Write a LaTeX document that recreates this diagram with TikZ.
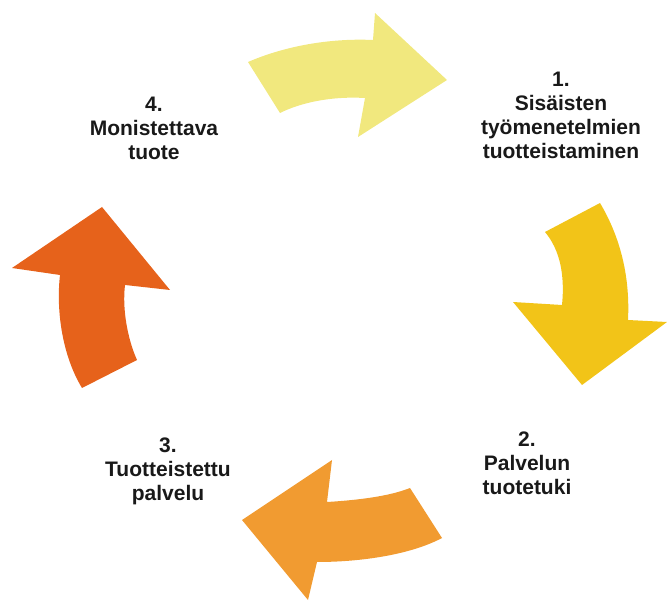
\documentclass[tikz,border=0pt]{standalone}
\usepackage{fontspec}
\setmainfont{Liberation Sans}
\usetikzlibrary{arrows}
\definecolor{paleyellow}{HTML}{F1E87E}
\definecolor{goldyellow}{HTML}{F2C418}
\definecolor{lightorange}{HTML}{F19B31}
\definecolor{darkorange}{HTML}{E6621B}
\tikzset{
    phase/.style={align=center, text=black!90, font=\bfseries\fontsize{21}{24}\selectfont} % Step labels
}

\begin{document}
\begin{tikzpicture}[x=1pt, y=-1pt]
    \useasboundingbox (0,0) rectangle (667,601);

    % 4 -> 1
    \fill
        [paleyellow]
        (248,62) .. controls (285,46) and (330,38) .. (373,40)
        -- (375,13) -- (447,80) -- (358,137) -- (365,98)
        .. controls (330,96) and (300,103) .. (280,113)
        -- cycle
    ;
    % 1 -> 2
    \fill
        [goldyellow]
        (545,232) -- (600,203)
        .. controls (622,240) and (630,280) .. (628,320)
        -- (667,322) -- (582,385) -- (513,302) -- (562,305)
        .. controls (565,275) and (560,250) .. (545,232)
        -- cycle
    ;
    % 2 -> 3
    \fill
        [lightorange]
        (410,488) -- (442,538)
        .. controls (410,555) and (360,562) .. (317,562)
        -- (308,600) -- (242,520) -- (332,460) -- (327,502)
        .. controls (360,500) and (390,496) .. (410,488)
        -- cycle
    ;
    % 3 -> 4
    \fill
        [darkorange]
        (102,207) -- (170,290) -- (125,285)
        .. controls (122,310) and (128,340) .. (137,360)
        -- (82,388)
        .. controls (62,355) and (56,310) .. (60,275)
        -- (12,268)
        -- cycle
    ;

    \draw
        node (1) [phase] at (561,115) {1.\\Sisäisten\\työmenetelmien\\tuotteistaminen}
        node (2) [phase] at (527,463) {2.\\Palvelun\\tuotetuki}
        node (3) [phase] at (168,471) {3.\\Tuotteistettu\\palvelu}
        node (4) [phase] at (154,128) {4.\\Monistettava\\tuote}
    ;
\end{tikzpicture}
\end{document}
